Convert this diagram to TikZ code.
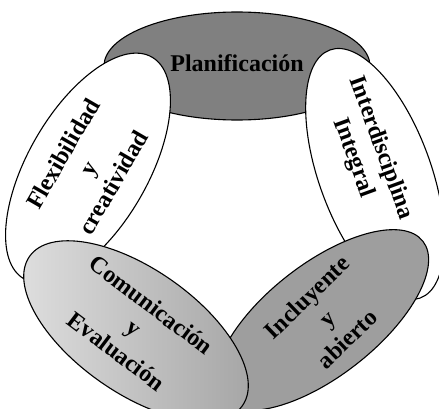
\documentclass[tikz,border=0pt]{standalone}
\usepackage{fontspec}
\setmainfont{Liberation Serif}
\usetikzlibrary{shapes.geometric}

\begin{document}
\begin{tikzpicture}[x=1pt,y=1pt,
  elipse/.style={ellipse,draw,line width=1.1pt,inner sep=0pt},
  texto/.style={font=\bfseries\fontsize{24}{29}\selectfont,align=center}]

\useasboundingbox (0,0) rectangle (439,-409);

\node[elipse,fill=black!50,minimum width=266pt,minimum height=108pt] (plan) at (237,-66) {};          % arriba
\node[elipse,fill=white,minimum width=256pt,minimum height=120pt,rotate=60] (flex) at (88,-168) {};   % izquierda
\node[elipse,fill=white,minimum width=264pt,minimum height=112pt,rotate=-70] (inter) at (375,-174) {}; % derecha
\node[elipse,fill=black!38,minimum width=256pt,minimum height=112pt,rotate=38] (incl) at (322,-320) {};
\node[elipse,left color=black!12,right color=black!36,minimum width=260pt,minimum height=124pt,rotate=-35] (comu) at (136,-331) {};

\node[texto] (tplan) at (237,-63) {Planificación};
\node[texto,rotate=60] (tflex) at (88,-168) {Flexibilidad\\y\\creatividad};
\node[texto,rotate=-70] (tinter) at (367,-153) {Interdisciplina\\Integral};
\node[texto,rotate=44] (tincl) at (327,-318) {Incluyente\\y\\abierto};
\node[texto,rotate=-37] (tcomu) at (134,-328) {Comunicación\\y\\Evaluación};

\end{tikzpicture}
\end{document}
